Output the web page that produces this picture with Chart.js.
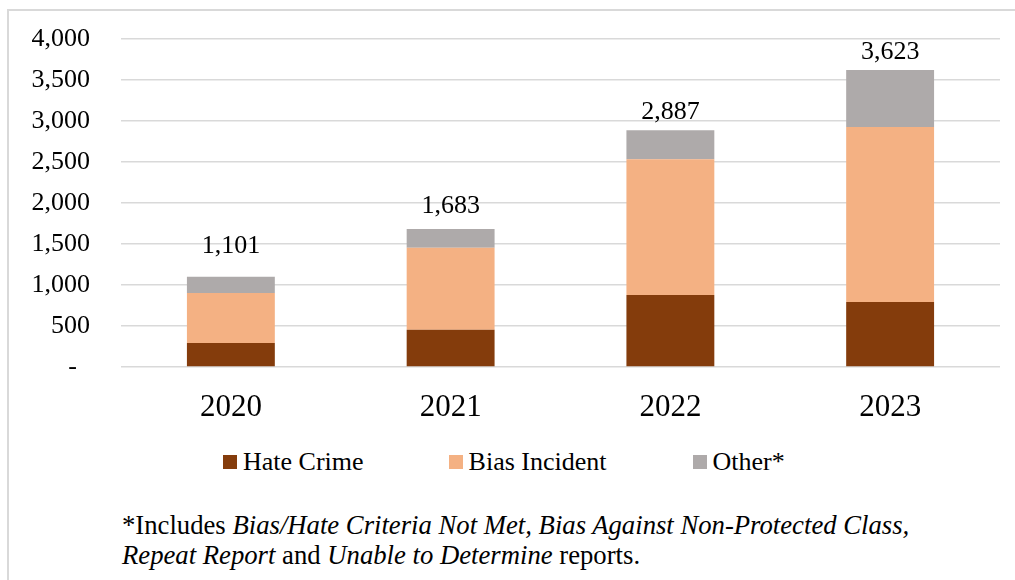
<!DOCTYPE html>
<html lang="en">
<head>
<meta charset="utf-8"/>
<title>Reports by Year</title>
<script src="https://cdn.jsdelivr.net/npm/chart.js@4.4.3/dist/chart.umd.min.js"></script>
<style>
  * { box-sizing: border-box; }
  html, body { margin: 0; padding: 0; background: #fff; }
  body { width: 1015px; height: 580px; position: relative; overflow: hidden;
    font-family: 'Liberation Serif', 'DejaVu Serif', serif; color: #000; }
  .frame { position: absolute; left: 7px; top: 9px; width: 1200px; height: 700px;
    border-left: 2px solid #d9d9d9; border-top: 2px solid #d9d9d9; }
  .plot { position: absolute; left: 8px; top: 10px; width: 1007px; height: 417px; }
  .legend { position: absolute; left: 223px; top: 447px; height: 30px; display: flex; align-items: center;
    font-size: 26px; line-height: 30px; white-space: nowrap; }
  .legend span.item { display: flex; align-items: center; }
  .legend span.box { width: 14px; height: 14px; margin-right: 6px; display: inline-block; }
  .note { position: absolute; left: 122px; top: 510px; font-size: 26.7px; line-height: 30px; white-space: nowrap; }
</style>
</head>
<body>
<div class="frame"></div>
<div class="plot"><canvas id="chart"></canvas></div>
<div class="legend" id="legend"></div>
<div class="note">*Includes <i>Bias/Hate Criteria Not Met, Bias Against Non-Protected Class,</i><br><i>Repeat Report</i> and <i>Unable to Determine</i> reports.</div>

<script>
// report counts per year, split by type
const years = ['2020', '2021', '2022', '2023'];
const hateCrime = [293, 455, 878, 793];
const biasIncident = [609, 1000, 1655, 2134];
const other = [199, 228, 354, 696];
const yTicks = [0, 500, 1000, 1500, 2000, 2500, 3000, 3500, 4000];

// distance (px) between the top of each stack and its total label
const totalGap = [31, 23, 18, 18];

const SERIF = "'Liberation Serif', 'DejaVu Serif', serif";

const totalsPlugin = {
  id: 'totals',
  afterDatasetsDraw(chart) {
    const { ctx } = chart;
    const y = chart.scales.y;
    ctx.save();
    ctx.font = `26px ${SERIF}`;
    ctx.fillStyle = '#000';
    ctx.textAlign = 'center';
    ctx.textBaseline = 'middle';
    const meta = chart.getDatasetMeta(chart.data.datasets.length - 1);
    years.forEach((_, i) => {
      const total = chart.data.datasets.reduce((s, ds) => s + ds.data[i], 0);
      const bar = meta.data[i];
      ctx.fillText(total.toLocaleString('en-US'), bar.x, y.getPixelForValue(total) - totalGap[i]);
    });
    ctx.restore();
  }
};

const chart = new Chart(document.getElementById('chart'), {
  type: 'bar',
  data: {
    labels: years,
    datasets: [
      { label: 'Hate Crime', data: hateCrime, backgroundColor: '#843c0c' },
      { label: 'Bias Incident', data: biasIncident, backgroundColor: '#f4b183' },
      { label: 'Other*', data: other, backgroundColor: '#aeaaaa' },
    ]
  },
  options: {
    responsive: true, maintainAspectRatio: false, animation: false,
    datasets: { bar: { barPercentage: 0.8, categoryPercentage: 0.5 } },
    layout: { padding: { top: 29, right: 15, bottom: 0, left: 0 } },
    plugins: {
      legend: { display: false },
      tooltip: { enabled: false }
    },
    scales: {
      x: {
        stacked: true,
        grid: { display: false },
        border: { display: false },
        ticks: { color: '#000', font: { family: SERIF, size: 31 }, padding: 14 },
        afterFit(scale) { scale.height = 60; }
      },
      y: {
        stacked: true,
        min: 0, max: 4000,
        afterBuildTicks(scale) { scale.ticks = yTicks.map(v => ({ value: v })); },
        afterFit(scale) {
          scale.width = 113;
          scale.paddingTop = 0;
          scale.paddingBottom = 0;
        },
        grid: { color: '#d9d9d9', lineWidth: 1.5, drawTicks: false },
        border: { display: false },
        ticks: {
          color: '#000', font: { family: SERIF, size: 26 }, padding: 31,
          callback: (v) => v === 0 ? '-  ' : v.toLocaleString('en-US')
        }
      }
    }
  },
  plugins: [totalsPlugin]
});

// legend row under the axis, built from the datasets
const gaps = [0, 85, 86];
document.getElementById('legend').innerHTML = chart.data.datasets.map((ds, i) =>
  `<span class="item" style="margin-left:${gaps[i]}px"><span class="box" style="background:${ds.backgroundColor}"></span>${ds.label}</span>`
).join('');
</script>
</body>
</html>
